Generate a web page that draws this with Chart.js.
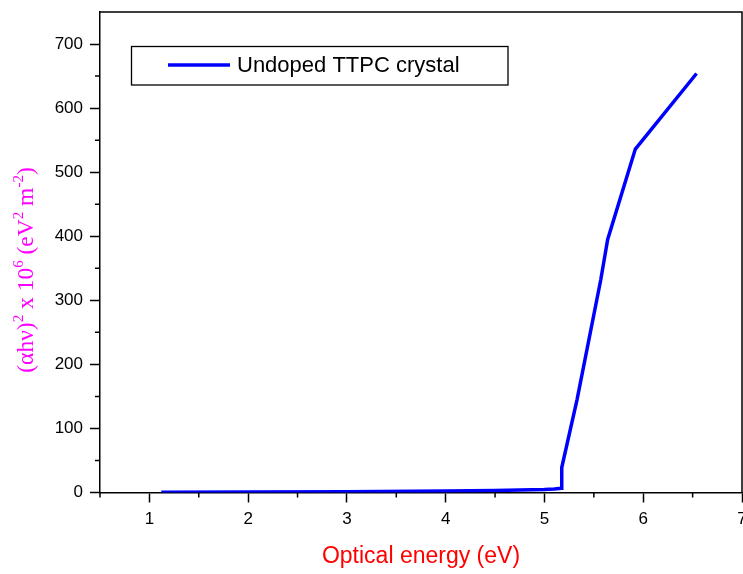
<!DOCTYPE html>
<html>
<head>
<meta charset="utf-8">
<script src="https://cdn.jsdelivr.net/npm/chart.js@4"></script>
<style>
  html, body { margin: 0; padding: 0; background: #fff; }
  #wrap { width: 743px; height: 574px; }
</style>
</head>
<body>
<div id="wrap"><canvas id="chart" width="743" height="574"></canvas></div>
<script>
// values
const energy = [1.12, 2, 3, 4, 4.5, 5, 5.1, 5.17, 5.175, 5.33, 5.57, 5.64, 5.92, 6.54];
const absorption = [0.5, 0.7, 1.2, 2.2, 3, 4.5, 5.5, 6.5, 39, 145, 332, 395, 536, 654];
const seriesLabel = 'Undoped TTPC crystal';
const xTitle = 'Optical energy (eV)';
const xTicks = [1, 2, 3, 4, 5, 6, 7];
const yTicks = [0, 100, 200, 300, 400, 500, 600, 700];

const points = energy.map((e, i) => ({ x: e, y: absorption[i] }));

// minor ticks, frame, boxed legend and the y title
const decorations = {
  id: 'decorations',
  afterDraw(chart) {
    const ctx = chart.ctx;
    const a = chart.chartArea;
    const xs = chart.scales.x, ys = chart.scales.y;
    ctx.save();
    ctx.strokeStyle = '#000';
    ctx.lineWidth = 1.5;
    // top and right frame
    ctx.beginPath();
    ctx.moveTo(a.left, a.top);
    ctx.lineTo(a.right, a.top);
    ctx.lineTo(a.right, a.bottom);
    ctx.stroke();
    // minor ticks
    ctx.beginPath();
    for (let v = 0.5; v <= 7; v += 1) {
      const px = xs.getPixelForValue(v);
      ctx.moveTo(px, a.bottom);
      ctx.lineTo(px, a.bottom + 5);
    }
    for (let v = 50; v < 750; v += 100) {
      const py = ys.getPixelForValue(v);
      ctx.moveTo(a.left, py);
      ctx.lineTo(a.left - 5, py);
    }
    ctx.stroke();

    // legend box
    ctx.lineWidth = 1.3;
    ctx.strokeRect(131.5, 46.5, 376.5, 38.5);
    const ds = chart.data.datasets[0];
    ctx.strokeStyle = ds.borderColor;
    ctx.lineWidth = 3.5;
    ctx.beginPath();
    ctx.moveTo(168, 65);
    ctx.lineTo(230, 65);
    ctx.stroke();
    ctx.fillStyle = '#000';
    ctx.font = '22px "Liberation Sans", Arial, sans-serif';
    ctx.textBaseline = 'middle';
    ctx.fillText(ds.label, 237, 66);

    // rotated y title with superscripts
    const parts = [
      ['(\u03b1h\u03bd)', false], ['2', true], [' x 10', false], ['6', true],
      [' (eV', false], ['2', true], [' m', false], ['-2', true], [')', false]
    ];
    const big = '23.5px "Liberation Serif", "Times New Roman", serif';
    const small = '15px "Liberation Serif", "Times New Roman", serif';
    let total = 0;
    parts.forEach(p => { ctx.font = p[1] ? small : big; total += ctx.measureText(p[0]).width; });
    ctx.translate(33, 270);
    ctx.rotate(-Math.PI / 2);
    ctx.fillStyle = '#ff00ff';
    ctx.textBaseline = 'alphabetic';
    let cx = -total / 2;
    parts.forEach(p => {
      ctx.font = p[1] ? small : big;
      ctx.fillText(p[0], cx, p[1] ? -10 : 0);
      cx += ctx.measureText(p[0]).width;
    });
    ctx.restore();
  }
};

new Chart(document.getElementById('chart'), {
  type: 'scatter',
  data: {
    datasets: [{
      label: seriesLabel,
      data: points,
      showLine: true,
      borderColor: '#0000ff',
      backgroundColor: '#0000ff',
      borderWidth: 3.5,
      pointRadius: 0,
      tension: 0
    }]
  },
  options: {
    responsive: false,
    animation: false,
    layout: { padding: { top: 12, right: 1, left: 0, bottom: 0 } },
    plugins: { legend: { display: false }, tooltip: { enabled: false } },
    scales: {
      x: {
        type: 'linear',
        min: 0.5,
        max: 7,
        afterFit: (s) => { s.height = 81.5; s.paddingLeft = 0; s.paddingRight = 0; },
        afterBuildTicks: (s) => { s.ticks = xTicks.map(v => ({ value: v })); },
        border: { display: true, color: '#000', width: 1.5 },
        grid: { display: true, drawOnChartArea: false, drawTicks: true, tickLength: 10, tickColor: '#000', tickWidth: 1.5 },
        ticks: {
          color: '#000',
          padding: 7,
          font: { family: '"Liberation Sans", Arial, sans-serif', size: 17 },
          maxRotation: 0
        },
        title: {
          display: true,
          text: xTitle,
          color: '#ff0000',
          font: { family: '"Liberation Sans", Arial, sans-serif', size: 23 },
          padding: { top: 6 }
        }
      },
      y: {
        type: 'linear',
        min: 0,
        max: 750,
        afterFit: (s) => { s.width = 100; s.paddingTop = 0; s.paddingBottom = 0; },
        afterBuildTicks: (s) => { s.ticks = yTicks.map(v => ({ value: v })); },
        border: { display: true, color: '#000', width: 1.5 },
        grid: { display: true, drawOnChartArea: false, drawTicks: true, tickLength: 10, tickColor: '#000', tickWidth: 1.5 },
        ticks: {
          color: '#000',
          padding: 7,
          font: { family: '"Liberation Sans", Arial, sans-serif', size: 17 }
        }
      }
    }
  },
  plugins: [decorations]
});
</script>
</body>
</html>
